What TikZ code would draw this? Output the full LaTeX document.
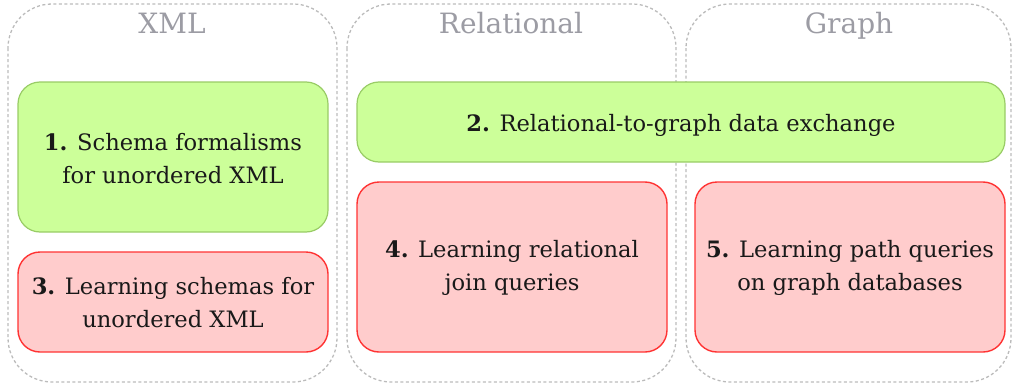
\documentclass[tikz,border=0pt]{standalone}
\usepackage{fontspec}
\setmainfont{DejaVu Serif}
\begin{document}
\begin{tikzpicture}[x=1pt,y=-1pt,
  col/.style={draw=cgray,dash pattern=on 3pt off 2.5pt,line width=1.3pt,rounded corners=44pt},
  ttl/.style={text=tgray,font=\fontsize{28}{32}\selectfont,anchor=base},
  greenbox/.style={draw=gdraw,fill=gfill,line width=1.2pt,rounded corners=22pt},
  redbox/.style={draw=rdraw,fill=rfill,line width=1.4pt,rounded corners=22pt},
  lbl/.style={align=center,font=\fontsize{22.6}{33}\selectfont,text=black!90}]
\definecolor{gfill}{HTML}{CCFF99}
\definecolor{gdraw}{HTML}{99CC66}
\definecolor{rfill}{HTML}{FFCCCC}
\definecolor{rdraw}{HTML}{FF3333}
\definecolor{tgray}{HTML}{9C9CA4}
\definecolor{cgray}{HTML}{BBBBBB}
\useasboundingbox (0,0) rectangle (1014,388);
% columns
\draw[col] (8,4) rectangle (337,382);
\draw[col] (347,4) rectangle (676,382);
\draw[col] (686,4) rectangle (1011,382);
\node[ttl] (t1) at (172,33) {XML};
\node[ttl] (t2) at (511,33) {Relational};
\node[ttl] (t3) at (849,33) {Graph};
% boxes
\draw[greenbox] (18,82) rectangle (328,232);
\node[lbl] (b1) at (173,159) {\textbf{1.} Schema formalisms\\for unordered XML};
\draw[redbox] (18,252) rectangle (328,352);
\node[lbl] (b3) at (173,303) {\textbf{3.} Learning schemas for\\unordered XML};
\draw[greenbox] (357,82) rectangle (1005,162);
\node[lbl] (b2) at (681,125) {\textbf{2.} Relational-to-graph data exchange};
\draw[redbox] (357,182) rectangle (667,352);
\node[lbl] (b4) at (512,268) {\textbf{4.} Learning relational\\join queries};
\draw[redbox] (695,182) rectangle (1005,352);
\node[lbl] (b5) at (850,268) {\textbf{5.} Learning path queries\\on graph databases};
\end{tikzpicture}
\end{document}
